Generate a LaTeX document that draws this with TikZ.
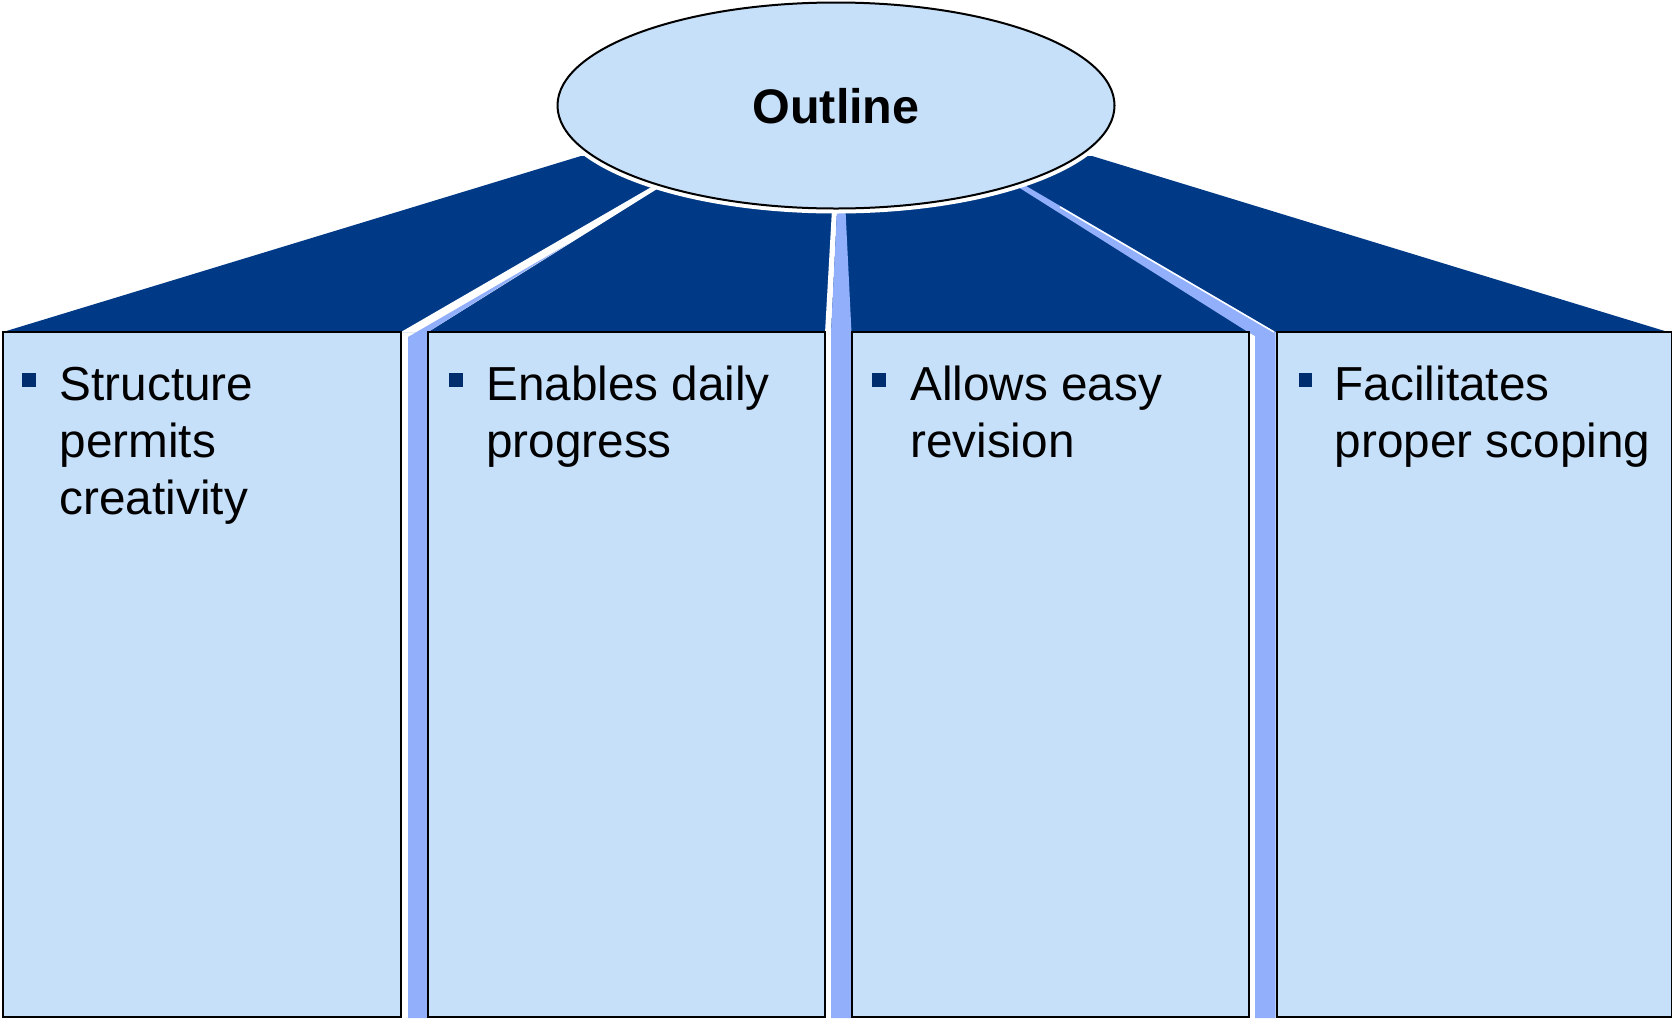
\documentclass[tikz,border=0pt]{standalone}
\usepackage{fontspec}
\setmainfont{Liberation Sans}
\usetikzlibrary{shapes.geometric}
\definecolor{navy}{RGB}{0,58,135}
\definecolor{bulletc}{RGB}{0,45,110}
\definecolor{paleblue}{RGB}{199,224,250}
\definecolor{stripe}{RGB}{145,175,250}
\begin{document}
\begin{tikzpicture}[x=1pt,y=-1pt,
  panel/.style={fill=paleblue, draw=black, line width=2pt},
  bulletbox/.style={fill=bulletc, draw=none, minimum size=13.5pt, inner sep=0pt},
  itemtext/.style={anchor=base west, inner sep=0pt, font=\fontsize{47.7}{57}\selectfont},
  stripefill/.style={fill=stripe, draw=none},
]
\useasboundingbox (0,0) rectangle (1672,1018);
% dark roof
\fill[navy] (3,332) -- (581,156) -- (1092,156) -- (1668,332) -- cycle;
% left separator
\fill[white] (401,332) -- (663.5,180) -- (671.4,180) -- (428,332) -- cycle;
\fill[stripefill] (408,1018) -- (408,337) -- (568,244) -- (428,332) -- (428,1018) -- cycle;
% middle separator
\fill[white] (832.5,200) -- (837.5,200) -- (831,333) -- (825,333) -- cycle;
\fill[stripefill] (837.5,200) -- (845,200) -- (851.5,333) -- (851.5,1018) -- (831,1018) -- (831,333) -- cycle;
% right separator
\fill[stripefill] (1007,180) -- (1015.8,180) -- (1275.5,332) -- (1275.5,1018) -- (1255,1018) -- (1255,336) -- (1250,333.3) -- cycle;
\draw[white, line width=1.5pt] (1060,207) -- (1274,332);
% panels
\draw[panel] (3.3,332) rectangle (400.7,1016.5);
\draw[panel] (427.7,332) rectangle (824.5,1016.5);
\draw[panel] (851.7,332) rectangle (1248.5,1016.5);
\draw[panel] (1276.7,332) rectangle (1672,1016.5);
% ellipse
\draw[white, line width=10pt] (836,105.5) ellipse [x radius=278.5pt, y radius=103pt];
\node[ellipse, draw=black, line width=2pt, fill=paleblue, minimum width=557pt, minimum height=206pt, inner sep=0pt] (outline) at (836,105.5) {};
\node[anchor=base, inner sep=0pt, font=\fontsize{48.5}{57}\selectfont\bfseries] (outlinetext) at (836,123.5) {Outline};
% bullets and texts
\node[bulletbox] (b1) at (28.8,380) {};
\node[itemtext] (t1a) at (59.5,400) {Structure};
\node[itemtext] (t1b) at (59.5,457) {permits};
\node[itemtext] (t1c) at (59.5,514) {creativity};
\node[bulletbox] (b2) at (456,380) {};
\node[itemtext] (t2a) at (486,400) {Enables daily};
\node[itemtext] (t2b) at (486,457) {progress};
\node[bulletbox] (b3) at (879,380) {};
\node[itemtext] (t3a) at (910,400) {Allows easy};
\node[itemtext] (t3b) at (910,457) {revision};
\node[bulletbox] (b4) at (1305.3,380) {};
\node[itemtext] (t4a) at (1334.5,400) {Facilitates};
\node[itemtext] (t4b) at (1334.5,457) {proper scoping};
\end{tikzpicture}
\end{document}
